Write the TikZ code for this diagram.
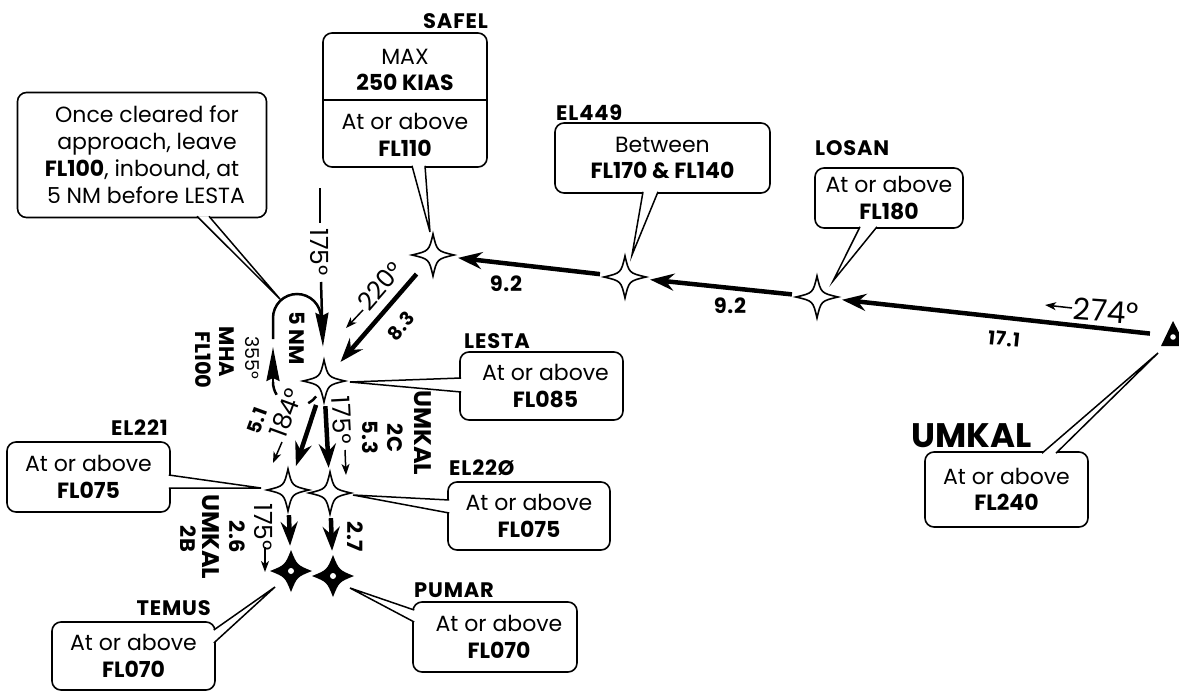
\documentclass[tikz,border=0pt]{standalone}
\usepackage{fontspec}
\setmainfont{Poppins}
\usetikzlibrary{arrows.meta,calc}
\newcommand\bxf{\fontsize{22}{26.5}\selectfont}
\newcommand\lbf{\fontsize{21}{24}\selectfont\bfseries\addfontfeature{LetterSpace=4}}
\newcommand\dgf{\fontsize{25}{28}\selectfont}
\newcommand\nmf{\fontsize{21}{24}\selectfont\bfseries\addfontfeature{LetterSpace=3}}
\tikzset{
  wp/.style={circle, minimum size=50pt, inner sep=0pt},
  leg/.style={line width=4.5pt, -{Stealth[length=24pt,width=17pt,inset=8pt]}},
  thinarr/.style={line width=1.5pt, -{Stealth[length=11pt,width=8pt,inset=3pt]}},
  hold/.style={line width=2.5pt},
  holdarr/.style={line width=2.5pt, -{Stealth[length=34pt,width=13pt,inset=3pt]}},
  ptr/.style={line width=1.5pt, fill=white},
  box/.style={draw, line width=1.6pt, rounded corners=9pt, fill=white, align=center, inner sep=0pt, font=\bxf},
  lbl/.style={font=\lbf, inner sep=0pt},
  deg/.style={font=\dgf, inner sep=0pt},
  num/.style={font=\nmf, inner sep=0pt},
  wpstar/.pic={\draw[line width=1.6pt, fill=white, line join=miter]
     (21,0) .. controls (4,-4) .. (0,-21) .. controls (-4,-4) .. (-21,0)
     .. controls (-4,4) .. (0,21) .. controls (4,4) .. cycle;},
  wpfill/.pic={\fill (21,0) .. controls (6,-6) .. (0,-21) .. controls (-6,-6) .. (-21,0)
     .. controls (-6,6) .. (0,21) .. controls (6,6) .. cycle;
     \fill[white] (0,0) circle[radius=3];}
}
\begin{document}
\begin{tikzpicture}[x=1pt,y=-1pt]
\useasboundingbox (0,0) rectangle (1179,691);

% waypoints
\node[wp, minimum size=44pt] (UMKAL) at (1172,336) {};
\node[wp] (LOSAN) at (817,297) {};
\node[wp] (EL449) at (625,277) {};
\node[wp] (SAFEL) at (433,255) {};
\node[wp] (LESTA) at (324,381) {};
\node[wp] (EL221) at (288,490) {};
\node[wp] (EL220) at (330,493) {};
\node[wp] (TEMUS) at (291,571) {};
\node[wp] (PUMAR) at (333,576) {};

% legs
\draw[leg] (UMKAL) -- (LOSAN);
\draw[leg] (LOSAN) -- (EL449);
\draw[leg] (EL449) -- (SAFEL);
\draw[leg] (SAFEL) -- (LESTA);
\draw[leg] (LESTA) -- (EL221);
\draw[leg] (LESTA) -- (EL220);
\draw[leg] (EL221) -- (TEMUS);
\draw[leg] (EL220) -- (PUMAR);

% holding pattern
\coordinate (inbA) at (320,188);
\coordinate (inbB) at (320,223);
\coordinate (inbC) at (321,282);
\draw[hold] (inbA) -- (inbB);
\draw[holdarr, shorten >=9pt] (inbC) -- (LESTA);
\draw[hold] (321,318) arc[start angle=0, end angle=-180, radius=24] -- (273,339);
\coordinate (outB) at (273,384);
\coordinate (outT) at (273,347);
\draw[holdarr] (outB) -- (outT);
\draw[hold] (273,382) arc[start angle=180, end angle=148, radius=24];
\draw[hold] (297,382) ++(37:24) arc[start angle=37, end angle=62, radius=24];

% symbols
\pic at (LOSAN) {wpstar};
\pic at (EL449) {wpstar};
\pic at (SAFEL) {wpstar};
\pic at (LESTA) {wpstar};
\pic at (EL221) {wpstar};
\pic at (EL220) {wpstar};
\pic at (TEMUS) {wpfill};
\pic at (PUMAR) {wpfill};
\fill (1173,321) -- (1161,346) -- (1186,346) -- cycle;
\fill[white] (1173,337) circle[radius=2.8];

% small course arrows
\coordinate (a274s) at (1072,308); \coordinate (a274e) at (1045,305);
\coordinate (a220s) at (363,310);  \coordinate (a220e) at (346,328);
\coordinate (a184s) at (282,442);  \coordinate (a184e) at (273,463);
\coordinate (a175s) at (345,450);  \coordinate (a175e) at (346,475);
\coordinate (a175bs) at (265,547); \coordinate (a175be) at (265,572);
\draw[thinarr] (a274s) -- (a274e);
\draw[thinarr] (a220s) -- (a220e);
\draw[thinarr] (a184s) -- (a184e);
\draw[thinarr] (a175s) -- (a175e);
\draw[thinarr] (a175bs) -- (a175be);

% course / distance labels
\node[deg, font=\fontsize{30}{34}\selectfont, rotate=-4] (c274) at (1106,311) {274°};
\node[num, font=\fontsize{19}{22}\selectfont\bfseries\addfontfeature{LetterSpace=4}, rotate=-6] (d171) at (1004,339) {17.1};
\node[num] (d92a) at (730,306) {9.2};
\node[num] (d92b) at (506,284) {9.2};
\node[deg, rotate=49] (c220) at (380,286) {220°};
\node[num, font=\fontsize{19}{22}\selectfont\bfseries\addfontfeature{LetterSpace=3}, rotate=49] (d83) at (401,326) {8.3};
\node[deg, rotate=-90] (c175a) at (320,252) {175°};
\node[num, font=\fontsize{21}{24}\selectfont\bfseries, rotate=-90] (nm5) at (297,338) {5 NM};
\node[deg, font=\fontsize{19}{22}\selectfont, rotate=-90] (c355) at (252,358) {355°};
\node[num, font=\fontsize{21}{24}\selectfont\bfseries, rotate=-90] (mha) at (227,352) {MHA};
\node[num, font=\fontsize{21}{24}\selectfont\bfseries, rotate=-90] (fl100) at (203,360) {FL100};
\node[deg, rotate=70] (c184) at (286,413) {184°};
\node[num, font=\fontsize{19}{22}\selectfont\bfseries\addfontfeature{LetterSpace=3}, rotate=70] (d51) at (257,421) {5.1};
\node[deg, rotate=-87] (c175b) at (342,420) {175°};
\node[num, rotate=-90] (d53) at (370,437) {5.3};
\node[num, rotate=-90] (t2c) at (395,438) {2C};
\node[num, font=\fontsize{24}{27}\selectfont\bfseries, rotate=-90] (tu1) at (423,433) {UMKAL};
\node[deg, rotate=-90] (c175c) at (264,527) {175°};
\node[num, rotate=-90] (d26) at (237,537) {2.6};
\node[num, font=\fontsize{24}{27}\selectfont\bfseries, rotate=-90] (tu2) at (211,537) {UMKAL};
\node[num, rotate=-90] (t2b) at (188,539) {2B};
\node[num, rotate=-90] (d27) at (355,537) {2.7};

% callout boxes
\node[box, minimum width=164pt, minimum height=134pt] (safelbox) at (405,100) {};
\draw[line width=1.6pt] (safelbox.west) -- (safelbox.east);
\node[font=\bxf, align=center, inner sep=0pt] (safeltop) at (405,70) {MAX\\\textbf{250 KIAS}};
\node[font=\bxf, align=center, inner sep=0pt] (safelbot) at (405,135) {At or above\\\textbf{FL110}};

\node[box, minimum width=249pt, minimum height=125pt, font=\fontsize{22}{27}\selectfont] (oncebox) at (142,155)
  {\hspace*{10pt}Once cleared for\\\hspace*{10pt}approach, leave\\\textbf{FL100}, inbound, at\\\hspace*{8pt}5 NM before LESTA};
\node[box, minimum width=215pt, minimum height=70pt] (el449box) at (662.5,158) {Between\\\textbf{FL170 \& FL140}};
\node[box, minimum width=148pt, minimum height=60pt] (losanbox) at (889,198) {At or above\\\textbf{FL180}};
\node[box, minimum width=163pt, minimum height=75pt] (umkalbox) at (1006.5,489.5) {At or above\\\textbf{FL240}};
\node[box, minimum width=163pt, minimum height=68pt] (lestabox) at (541.5,386) {\hspace*{8pt}At or above\\\hspace*{8pt}\textbf{FL085}};
\node[box, minimum width=162pt, minimum height=68pt] (el220box) at (529,516) {At or above\\\textbf{FL075}};
\node[box, minimum width=163pt, minimum height=70pt] (el221box) at (88.5,477) {At or above\\\textbf{FL075}};
\node[box, minimum width=163pt, minimum height=68pt] (temusbox) at (133.5,656) {At or above\\\textbf{FL070}};
\node[box, minimum width=164pt, minimum height=70pt] (pumarbox) at (495,637) {\hspace*{8pt}At or above\\\hspace*{8pt}\textbf{FL070}};

% pointer tips
\coordinate (tSAFEL) at (430,232);
\coordinate (tONCE) at (280,299);
\coordinate (tEL449) at (632,255);
\coordinate (tLOSAN) at (833,281);
\coordinate (tUMKAL) at (1158,353);
\coordinate (tLESTA) at (350,382);
\coordinate (tEL220) at (353,495);
\coordinate (tEL221) at (261,488);
\coordinate (tTEMUS) at (275,587);
\coordinate (tPUMAR) at (350,588);

\draw[ptr] ([xshift=7pt,yshift=2pt]safelbox.south) -- (tSAFEL) -- ([xshift=20pt,yshift=2pt]safelbox.south);
\draw[ptr] ([xshift=55pt,yshift=2pt]oncebox.south) -- (tONCE) -- ([xshift=67pt,yshift=2pt]oncebox.south);
\draw[ptr] ([xshift=-19.5pt,yshift=2pt]el449box.south) -- (tEL449) -- ([xshift=-4.5pt,yshift=2pt]el449box.south);
\draw[ptr] ([xshift=-29pt,yshift=2pt]losanbox.south) -- (tLOSAN) -- ([xshift=-12pt,yshift=2pt]losanbox.south);
\draw[ptr] ([xshift=35.5pt,yshift=-2pt]umkalbox.north) -- (tUMKAL) -- ([xshift=49.5pt,yshift=-2pt]umkalbox.north);
\draw[ptr] ([xshift=2pt,yshift=8pt]lestabox.west) -- (tLESTA) -- ([xshift=2pt,yshift=-6pt]lestabox.west);
\draw[ptr] ([xshift=2pt,yshift=16pt]el220box.west) -- (tEL220) -- ([xshift=2pt,yshift=3pt]el220box.west);
\draw[ptr] ([xshift=-2pt,yshift=2pt]el221box.east) -- (tEL221) -- ([xshift=-2pt,yshift=-11pt]el221box.east);
\draw[ptr] ([xshift=-2pt,yshift=26pt]temusbox.east) -- (tTEMUS) -- ([xshift=-2pt,yshift=13pt]temusbox.east);
\draw[ptr] ([xshift=2pt,yshift=27pt]pumarbox.west) -- (tPUMAR) -- ([xshift=2pt,yshift=15pt]pumarbox.west);

% waypoint names
\node[lbl, anchor=base east] (nSAFEL) at (488,28) {SAFEL};
\node[lbl, anchor=base west] (nEL449) at (556,120) {EL449};
\node[lbl, anchor=base west] (nLOSAN) at (815,155) {LOSAN};
\node[lbl, font=\fontsize{34}{40}\selectfont\bfseries, anchor=base west] (nUMKAL) at (911,447) {UMKAL};
\node[lbl, anchor=base west] (nLESTA) at (464,348) {LESTA};
\node[lbl, anchor=base west] (nEL220) at (449,475) {EL22Ø};
\node[lbl, anchor=base east] (nEL221) at (168,435) {EL221};
\node[lbl, anchor=base east] (nTEMUS) at (211,615) {TEMUS};
\node[lbl, anchor=base west] (nPUMAR) at (414,597) {PUMAR};
\end{tikzpicture}
\end{document}
